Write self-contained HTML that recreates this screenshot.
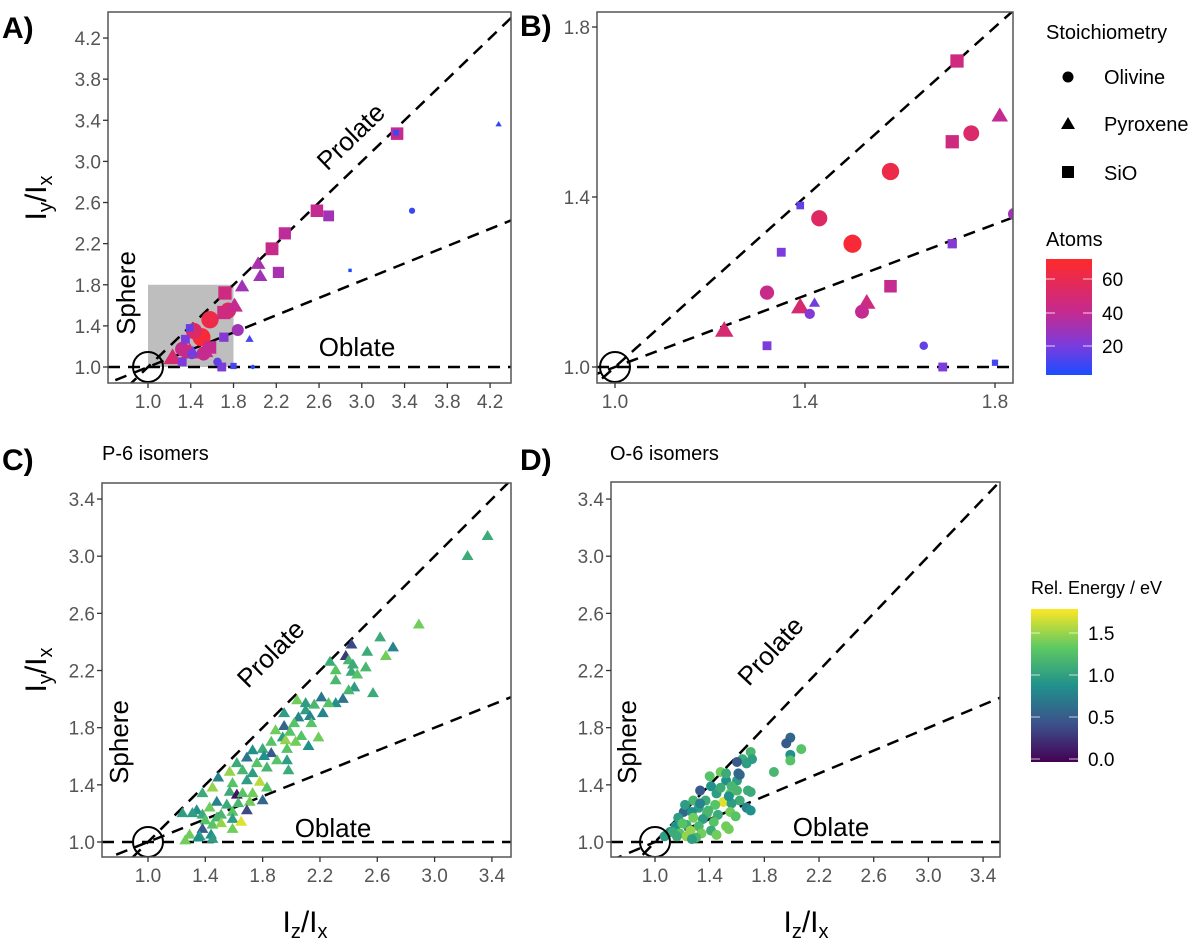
<!DOCTYPE html>
<html><head><meta charset="utf-8"><style>
body{margin:0;background:#fff;}
svg{display:block;font-family:"Liberation Sans",sans-serif;}
.tick{font-size:19px;fill:#555;}
.ann{font-size:26px;fill:#000;}
.lab{font-size:30px;font-weight:bold;fill:#000;}
</style></head><body>
<svg id="fig" width="1200" height="944" viewBox="0 0 1200 944">
<defs>
<linearGradient id="atomsGrad" x1="0" y1="1" x2="0" y2="0">
<stop offset="0" stop-color="#1a4dff"/><stop offset="0.26" stop-color="#7d3bdc"/><stop offset="0.54" stop-color="#c42a90"/><stop offset="1" stop-color="#ff2a2a"/>
</linearGradient>
<linearGradient id="energyGrad" x1="0" y1="1" x2="0" y2="0">
<stop offset="0" stop-color="#440154"/><stop offset="0.25" stop-color="#3b528b"/><stop offset="0.5" stop-color="#21918c"/><stop offset="0.75" stop-color="#5ec962"/><stop offset="1" stop-color="#fde725"/>
</linearGradient>
</defs>
<text x="2" y="38" class="lab">A)</text>
<text x="520" y="36" class="lab">B)</text>
<text x="2" y="470" class="lab">C)</text>
<text x="520" y="470" class="lab">D)</text>
<text x="102" y="460" font-size="20">P-6 isomers</text>
<text x="610" y="460" font-size="20">O-6 isomers</text>
<text transform="translate(46,198) rotate(-90)" text-anchor="middle" font-size="30">I<tspan font-size="20" dy="6">y</tspan><tspan dy="-6">/I</tspan><tspan font-size="20" dy="6">x</tspan></text>
<text transform="translate(46,670) rotate(-90)" text-anchor="middle" font-size="30">I<tspan font-size="20" dy="6">y</tspan><tspan dy="-6">/I</tspan><tspan font-size="20" dy="6">x</tspan></text>
<text x="305" y="932" text-anchor="middle" font-size="30">I<tspan font-size="20" dy="6">z</tspan><tspan dy="-6">/I</tspan><tspan font-size="20" dy="6">x</tspan></text>
<text x="806" y="932" text-anchor="middle" font-size="30">I<tspan font-size="20" dy="6">z</tspan><tspan dy="-6">/I</tspan><tspan font-size="20" dy="6">x</tspan></text>
<g>
<text x="1046" y="39" font-size="20">Stoichiometry</text>
<circle cx="1068" cy="77" r="5.5" fill="#000"/><text x="1104" y="84" font-size="20">Olivine</text>
<polygon points="1068,117 1075,129 1061,129" fill="#000"/><text x="1104" y="131" font-size="20">Pyroxene</text>
<rect x="1062" y="166" width="12" height="12" fill="#000"/><text x="1104" y="180" font-size="20">SiO</text>
</g>
<g>
<text x="1046" y="246" font-size="20">Atoms</text>
<rect x="1046" y="259" width="46" height="116" fill="url(#atomsGrad)"/>
<g stroke="#fff" stroke-width="1" opacity="0.8"><line x1="1046" y1="279" x2="1055" y2="279"/><line x1="1083" y1="279" x2="1092" y2="279"/><line x1="1046" y1="313" x2="1055" y2="313"/><line x1="1083" y1="313" x2="1092" y2="313"/><line x1="1046" y1="346" x2="1055" y2="346"/><line x1="1083" y1="346" x2="1092" y2="346"/></g>
<text x="1102" y="286" font-size="19">60</text><text x="1102" y="320" font-size="19">40</text><text x="1102" y="353" font-size="19">20</text>
</g>
<g>
<text x="1031" y="594" font-size="18">Rel. Energy / eV</text>
<rect x="1031" y="609" width="47" height="153" fill="url(#energyGrad)"/>
<g stroke="#fff" stroke-width="1" opacity="0.7"><line x1="1031" y1="633" x2="1040" y2="633"/><line x1="1069" y1="633" x2="1078" y2="633"/><line x1="1031" y1="675" x2="1040" y2="675"/><line x1="1069" y1="675" x2="1078" y2="675"/><line x1="1031" y1="717" x2="1040" y2="717"/><line x1="1069" y1="717" x2="1078" y2="717"/><line x1="1031" y1="759" x2="1040" y2="759"/><line x1="1069" y1="759" x2="1078" y2="759"/></g>
<text x="1088" y="640" font-size="19">1.5</text><text x="1088" y="682" font-size="19">1.0</text><text x="1088" y="724" font-size="19">0.5</text><text x="1088" y="766" font-size="19">0.0</text>
</g>
</svg>
<script>
// Panel A/B data
const abX=[3.33,3.32,4.28,3.47,2.89,2.58,2.69,2.28,2.16,2.22,2.03,2.05,1.88,1.98,1.95,1.72,1.81,1.75,1.71,1.58,1.39,1.43,1.50,1.84,1.71,1.35,1.58,1.32,1.42,1.41,1.39,1.53,1.52,1.23,1.32,1.65,1.69,1.80];
const abY=[3.27,3.28,3.36,2.52,1.94,2.52,2.47,2.30,2.15,1.92,2.00,1.88,1.78,1.00,1.27,1.72,1.59,1.55,1.53,1.46,1.38,1.35,1.29,1.36,1.29,1.27,1.19,1.175,1.15,1.125,1.14,1.15,1.13,1.085,1.05,1.05,1.00,1.01];
const abShape=["s","s","t","c","s","s","s","s","s","s","t","t","t","c","t","s","t","c","s","c","s","c","c","c","s","s","s","c","t","c","t","t","c","t","s","c","s","s"];
const abAtoms=[40,8,6,8,3,40,30,38,42,32,32,30,30,4,10,45,40,52,45,62,15,54,68,30,22,20,40,42,18,22,50,45,40,50,20,15,20,10];
// Panel C data (P-6)
const cX=[3.37,3.23,2.89,2.71,2.66,2.62,2.53,2.52,2.57,2.42,2.38,2.40,2.43,2.42,2.46,2.27,2.31,2.31,2.44,2.40,2.21,2.36,2.31,2.26,2.04,2.10,2.16,2.10,2.22,1.95,2.05,2.13,2.02,2.14,1.95,1.89,1.99,2.07,2.19,1.94,1.86,1.96,2.03,2.12,1.97,1.80,1.73,1.86,1.81,1.97,1.90,1.69,1.62,1.76,1.83,1.98,1.57,1.66,1.73,1.49,1.45,1.59,1.69,1.78,1.83,1.38,1.57,1.62,1.66,1.73,1.80,1.71,1.63,1.55,1.48,1.43,1.69,1.34,1.24,1.31,1.38,1.51,1.59,1.40,1.48,1.59,1.65,1.38,1.45,1.51,1.59,1.29,1.36,1.44,1.26,1.45,1.35];
const cY=[3.14,3.00,2.52,2.36,2.30,2.43,2.33,2.22,2.04,2.38,2.30,2.27,2.24,2.19,2.17,2.26,2.20,2.13,2.08,2.06,2.01,2.00,1.97,1.97,1.99,1.97,1.96,1.92,1.90,1.90,1.87,1.88,1.83,1.83,1.81,1.78,1.77,1.74,1.73,1.73,1.70,1.71,1.70,1.67,1.65,1.65,1.64,1.62,1.60,1.57,1.57,1.59,1.55,1.55,1.52,1.50,1.49,1.50,1.48,1.45,1.38,1.41,1.43,1.42,1.38,1.34,1.35,1.33,1.34,1.34,1.29,1.28,1.27,1.26,1.28,1.24,1.22,1.22,1.20,1.20,1.19,1.19,1.21,1.15,1.17,1.16,1.14,1.09,1.12,1.13,1.09,1.05,1.04,1.05,1.01,1.02,1.03];
const cE=[1.1,1.1,1.4,0.8,1.4,1.1,1.1,1.2,1.1,0.4,0.3,1.2,1.1,1.1,1.3,1.1,1.3,1.2,1.0,1.2,0.7,0.7,0.9,1.3,1.4,1.0,1.2,1.0,0.8,1.0,0.8,0.8,1.3,1.3,0.6,1.4,1.3,1.3,1.4,1.0,1.3,1.5,1.4,0.9,1.3,1.1,0.9,0.5,0.9,1.0,1.3,0.7,1.1,1.3,1.2,1.1,1.5,1.2,1.0,0.8,1.5,1.3,1.0,1.6,1.3,1.1,1.1,0.1,1.3,1.4,0.6,1.4,1.2,1.1,0.8,1.4,0.4,0.9,1.0,1.0,1.1,1.2,1.3,1.3,1.2,1.0,1.7,0.5,1.3,1.5,1.4,1.4,1.0,0.9,1.4,1.0,0.9];
// Panel D data (O-6)
const dX=[1.99,1.96,2.07,1.99,1.99,1.87,1.70,1.71,1.64,1.60,1.67,1.48,1.61,1.52,1.60,1.68,1.33,1.41,1.45,1.55,1.62,1.50,1.56,1.67,1.28,1.37,1.44,1.32,1.21,1.27,1.55,1.38,1.46,1.28,1.35,1.17,1.52,1.43,1.23,1.15,1.32,1.26,1.11,1.18,1.34,1.07,1.23,1.16,1.41,1.45,1.30,1.27,1.13,1.39,1.48,1.56,1.40,1.52,1.54,1.60,1.33,1.22,1.20,1.70,1.70,1.62,1.59,1.54];
const dY=[1.73,1.69,1.65,1.61,1.57,1.49,1.63,1.58,1.58,1.56,1.55,1.49,1.48,1.43,1.43,1.36,1.36,1.39,1.34,1.34,1.29,1.28,1.27,1.24,1.29,1.29,1.26,1.24,1.21,1.21,1.21,1.20,1.19,1.17,1.16,1.17,1.11,1.14,1.12,1.11,1.11,1.08,1.07,1.06,1.06,1.04,1.04,1.04,1.08,1.05,1.03,1.02,1.07,1.22,1.38,1.39,1.46,1.48,1.32,1.36,1.27,1.26,1.13,1.35,1.22,1.47,1.18,1.09];
const dE=[0.6,0.5,1.3,0.9,1.3,1.2,1.2,1.0,1.1,0.5,1.0,1.4,0.6,0.9,1.0,1.1,0.5,0.9,1.0,1.4,1.1,1.7,1.0,0.8,1.2,1.1,1.3,1.0,0.6,0.9,1.4,1.2,1.1,1.4,1.0,1.0,1.4,1.3,1.1,0.9,1.2,1.5,0.8,1.3,1.4,1.0,1.5,1.1,1.1,1.4,1.2,1.0,1.1,1.2,1.1,1.2,1.3,1.1,0.9,1.2,0.8,1.0,1.3,1.1,0.9,0.6,1.3,1.4];
const ticksA=[1.0,1.4,1.8,2.2,2.6,3.0,3.4,3.8,4.2];
const ticksB=[1.0,1.4,1.8];
const ticksCD=[1.0,1.4,1.8,2.2,2.6,3.0,3.4];

const NS="http://www.w3.org/2000/svg";
const fig=document.getElementById('fig');
function mk(tag,attrs,parent){const e=document.createElementNS(NS,tag);for(const k in attrs)e.setAttribute(k,attrs[k]);(parent||fig).appendChild(e);return e;}
function lerpHex(a,b,t){const pa=[1,3,5].map(i=>parseInt(a.substr(i,2),16)),pb=[1,3,5].map(i=>parseInt(b.substr(i,2),16));return 'rgb('+pa.map((v,i)=>Math.round(v+(pb[i]-v)*t)).join(',')+')';}
function scaleColor(stops,v){if(v<=stops[0][0])return stops[0][1];for(let i=1;i<stops.length;i++){if(v<=stops[i][0]){const t=(v-stops[i-1][0])/(stops[i][0]-stops[i-1][0]);return lerpHex(stops[i-1][1],stops[i][1],t);}}return stops[stops.length-1][1];}
const atomStops=[[2,'#1a4dff'],[20,'#7d3bdc'],[40,'#c42a90'],[72,'#ff2a2a']];
const eStops=[[0,'#440154'],[0.45,'#3b528b'],[0.9,'#21918c'],[1.35,'#5ec962'],[1.78,'#fde725']];

function panel(p){
  const g=mk('g',{});
  
  
  const sx=x=>p.px0+(x-1)*p.kx, sy=y=>p.py0-(y-1)*p.ky;
  const cp=mk('clipPath',{id:'clip-'+p.name},g);
  mk('rect',{x:p.l,y:p.t,width:p.r-p.l,height:p.b-p.t},cp);
  const inner=mk('g',{'clip-path':'url(#clip-'+p.name+')'},g);
  if(p.grey){const r=mk('rect',{x:sx(1),y:sy(1.8),width:sx(1.8)-sx(1),height:sy(1)-sy(1.8),fill:'#bebebe'},inner);
    
    }
  const x0=0,x1=6;
  const ds={stroke:'#000','stroke-width':2.5,'stroke-dasharray':'12,8',fill:'none'};
  const l1=mk('line',Object.assign({x1:sx(x0),y1:sy(x0),x2:sx(x1),y2:sy(x1)},ds),inner);
  
  
  const l2=mk('line',Object.assign({x1:sx(x0),y1:sy(1+p.slope*(x0-1)),x2:sx(x1),y2:sy(1+p.slope*(x1-1))},ds),inner);
  
  
  const l3=mk('line',Object.assign({x1:p.l,y1:sy(1),x2:p.r,y2:sy(1)},ds),inner);
  
  
  p.draw(inner,sx,sy);
  const c=mk('circle',{cx:sx(1),cy:sy(1),r:15,fill:'none',stroke:'#000','stroke-width':2},inner);
  
  
  const fr=mk('rect',{x:p.l,y:p.t,width:p.r-p.l,height:p.b-p.t,fill:'none',stroke:'#555','stroke-width':1.5},g);
  
  
  p.ticks.forEach(v=>{
    const X=sx(v); if(X>=p.l&&X<=p.r){
      mk('line',{x1:X,y1:p.b,x2:X,y2:p.b+5,stroke:'#333','stroke-width':1.3},g);
      const t=mk('text',{x:X,y:p.b+25,'text-anchor':'middle',class:'tick'},g);t.textContent=v.toFixed(1);
      
      }
    const Y=sy(v); if(Y>=p.t&&Y<=p.b){
      mk('line',{x1:p.l-5,y1:Y,x2:p.l,y2:Y,stroke:'#333','stroke-width':1.3},g);
      const t=mk('text',{x:p.l-7,y:Y+7,'text-anchor':'end',class:'tick'},g);t.textContent=v.toFixed(1);
      
      }
  });
  if(p.ann){
    const a=p.ann;
    const t1=mk('text',{class:'ann','text-anchor':'middle',transform:`translate(${a.pro[0]},${a.pro[1]}) rotate(${a.pro[2]})`},g);t1.textContent='Prolate';
    
    
    const t2=mk('text',{class:'ann','text-anchor':'middle',transform:`translate(${a.sph[0]},${a.sph[1]}) rotate(-90)`},g);t2.textContent='Sphere';
    
    
    const t3=mk('text',{class:'ann','text-anchor':'middle',x:a.obl[0],y:a.obl[1]},g);t3.textContent='Oblate';
    
    
  }
}
function shape(par,kind,X,Y,r,col){
  let e;
  if(kind==='c') e=mk('circle',{cx:X,cy:Y,r:r,fill:col},par);
  else if(kind==='s') e=mk('rect',{x:X-r*0.9,y:Y-r*0.9,width:r*1.8,height:r*1.8,fill:col},par);
  else {const h=r*1.25;e=mk('polygon',{points:`${X},${Y-h} ${X+h*0.95},${Y+h*0.6} ${X-h*0.95},${Y+h*0.6}`,fill:col},par);}
  return e;
}
function drawAB(par,sx,sy){
  const idx=abX.map((_,i)=>i).sort((a,b)=>abAtoms[b]-abAtoms[a]);
  idx.forEach(i=>{
    const e=shape(par,abShape[i],sx(abX[i]),sy(abY[i]),1.1*Math.sqrt(abAtoms[i]),scaleColor(atomStops,abAtoms[i]));
    
    
  });
}
panel({name:'panel-a',l:108,r:511,t:12,b:383,px0:148,kx:106.9,py0:367,ky:102.8,slope:0.42,ticks:ticksA,grey:true,draw:drawAB,
  ann:{pro:[357,143,-44],sph:[135,293],obl:[357,356]}});
panel({name:'panel-b',l:597,r:1013,t:12,b:383,px0:615,kx:475,py0:367,ky:425,slope:0.42,ticks:ticksB,draw:drawAB});
panel({name:'panel-c',l:102,r:511,t:483,b:857,px0:148,kx:143.3,py0:842,ky:142.9,slope:0.40,ticks:ticksCD,
  draw:(par,sx,sy)=>{cX.forEach((x,i)=>{const e=shape(par,'t',sx(x),sy(cY[i]),5,scaleColor(eStops,cE[i]));
    
    });},
  ann:{pro:[277,660,-45],sph:[128,742],obl:[333,837]}});
panel({name:'panel-d',l:611,r:1000,t:482,b:857,px0:655,kx:136.7,py0:842,ky:142.9,slope:0.40,ticks:ticksCD,
  draw:(par,sx,sy)=>{dX.forEach((x,i)=>{const e=shape(par,'c',sx(x),sy(dY[i]),5,scaleColor(eStops,dE[i]));
    
    });},
  ann:{pro:[777,657,-47],sph:[636,742],obl:[831,836]}});
</script>
</body></html>
